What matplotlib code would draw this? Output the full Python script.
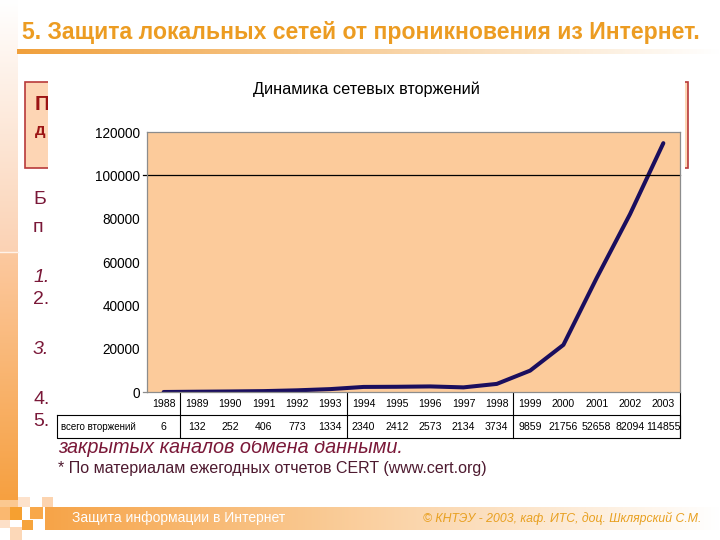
import numpy as np
import matplotlib
matplotlib.use("Agg")
import matplotlib.pyplot as plt
from matplotlib import transforms
from matplotlib.patches import Rectangle
from matplotlib.colors import LinearSegmentedColormap

years = [1988, 1989, 1990, 1991, 1992, 1993, 1994, 1995,
         1996, 1997, 1998, 1999, 2000, 2001, 2002, 2003]
incidents = [6, 132, 252, 406, 773, 1334, 2340, 2412,
             2573, 2134, 3734, 9859, 21756, 52658, 82094, 114855]
yticks = [0, 20000, 40000, 60000, 80000, 100000, 120000]
row_label = "всего вторжений"
chart_title = "Динамика сетевых вторжений"
slide_title = "5. Защита локальных сетей от проникновения из Интернет."
footnote = "* По материалам ежегодных отчетов CERT (www.cert.org)"
footer_left = "Защита информации в Интернет"
footer_right = "© КНТЭУ - 2003, каф. ИТС, доц. Шклярский С.М."

plt.rcParams['font.family'] = ['Liberation Sans', 'DejaVu Sans']

fig = plt.figure(figsize=(7.2, 5.4), dpi=100)
bg = fig.add_axes([0, 0, 1, 1])
bg.axis('off')


def grad(x0, x1, y0, y1, c0, c1, vertical=True, z=0):
    cm = LinearSegmentedColormap.from_list('g', [c0, c1])
    g = np.linspace(0, 1, 256)
    g = g.reshape(-1, 1) if vertical else g.reshape(1, -1)
    bg.imshow(g, extent=[x0, x1, y1, y0], origin='upper', cmap=cm,
              aspect='auto', zorder=z, interpolation='bilinear')


# left band
grad(0, 18, 0, 252, '#ffffff', '#fbd2b4')
grad(0, 18, 252, 500, '#fcc9a0', '#f6a040')
bg.plot([0, 18], [252, 252], color='#fff2e8', lw=1, zorder=1)
# decorative squares bottom-left
for (x, y, w, h, c) in [(0, 500, 18, 7, '#fbc890'), (18, 497, 12, 10, '#fde2cc'),
                        (42, 497, 11, 10, '#fcd4b0'), (0, 507, 10, 13, '#fab870'),
                        (10, 507, 12, 13, '#f6a030'), (30, 507, 13, 12, '#f8a84a'),
                        (22, 520, 11, 10, '#f6a43c'), (0, 520, 10, 8, '#fde0c8'),
                        (10, 527, 12, 13, '#fcd8b8')]:
    bg.add_patch(Rectangle((x, y), w, h, color=c, zorder=2, lw=0))

# title and underline
bg.text(22, 33, slide_title, fontsize=16.6, fontweight='bold', color='#ec9c22',
        va='center', ha='left', zorder=3)
grad(17, 720, 49, 54, '#f0a03c', '#ffffff', vertical=False, z=2)

# box behind the chart (only its left edge shows)
bg.add_patch(Rectangle((25, 82), 663, 86, facecolor='#fdd5b4', edgecolor='#b83a3a',
                       lw=1.2, zorder=2))
bg.text(35, 105, "П", fontsize=15, fontweight='bold', color='#9c1414',
        va='center', zorder=3)
bg.text(35, 130, "д", fontsize=12, fontweight='bold', color='#9c1414',
        va='center', zorder=3)

# list fragments on the left
maroon = '#7a1838'
for (y, s, st) in [(200, "Б", 'normal'), (228, "п", 'normal'),
                   (278, "1.", 'italic'), (300, "2.", 'normal'),
                   (350, "3.", 'italic'), (400, "4.", 'normal'),
                   (422, "5.", 'normal')]:
    bg.text(33, y, s, fontsize=14, color=maroon, style=st, va='center', zorder=3)
bg.text(58, 447, "закрытых каналов обмена данными.", fontsize=14.3, color=maroon,
        style='italic', va='center', zorder=3)
bg.text(58, 469, footnote, fontsize=11.5, color='#4e1a30', va='center', zorder=3)

# chart background
bg.add_patch(Rectangle((48, 72), 637, 369, facecolor='white', edgecolor='none', zorder=4))
bg.text(366, 89, chart_title, fontsize=11.7, color='black', ha='center', va='center', zorder=5)

# footer bar
grad(45, 720, 507, 530, '#f6a448', '#ffffff', vertical=False, z=2)
bg.text(72, 518, footer_left, fontsize=10, color='white', va='center', zorder=3)
bg.text(423, 518, footer_right, fontsize=8.8, color='#e8a020', style='italic',
        va='center', zorder=3)

bg.set_xlim(0, 720)
bg.set_ylim(540, 0)

# chart
ax = fig.add_axes([147 / 720, 1 - 392 / 540, 533 / 720, 260 / 540])
ax.set_facecolor('#fccb9b')
x = np.arange(len(years))
ax.plot(x, incidents, color='#1a0e5e', lw=2.9, solid_capstyle='round')
ax.set_xlim(-0.5, len(years) - 0.5)
ax.set_ylim(0, 120000)
ax.set_yticks(yticks)
ax.set_yticklabels([str(v) for v in yticks], fontsize=9.8)
ax.set_xticks([])
ax.tick_params(axis='y', length=0, pad=5)
for s in ax.spines.values():
    s.set_color('#8c8c8c')
    s.set_linewidth(0.9)
ax.axhline(100000, xmin=-0.008, xmax=1, color='black', lw=0.9, clip_on=False)
ax.axhline(0, xmin=-0.008, xmax=0, color='#8c8c8c', lw=0.9, clip_on=False)

# data table under the chart
tr = transforms.blended_transform_factory(ax.transData, bg.transData)
for i, (yr, v) in enumerate(zip(years, incidents)):
    bg.text(i, 404, str(yr), transform=tr, fontsize=7.6, ha='center', va='center', zorder=6)
    bg.text(i, 427, str(v), transform=tr, fontsize=7.6, ha='center', va='center', zorder=6)
bg.text(61, 427, row_label, fontsize=7, ha='left', va='center', zorder=6)
for xs in [0.5, 5.5, 10.5, len(years) - 0.5]:
    bg.plot([xs, xs], [393, 438], transform=tr, color='black', lw=0.8, zorder=6)
bg.plot([57, 680, 680, 57, 57], [415, 415, 438, 438, 415], color='black', lw=0.8, zorder=6)

fig.savefig("out.png", dpi=100)
